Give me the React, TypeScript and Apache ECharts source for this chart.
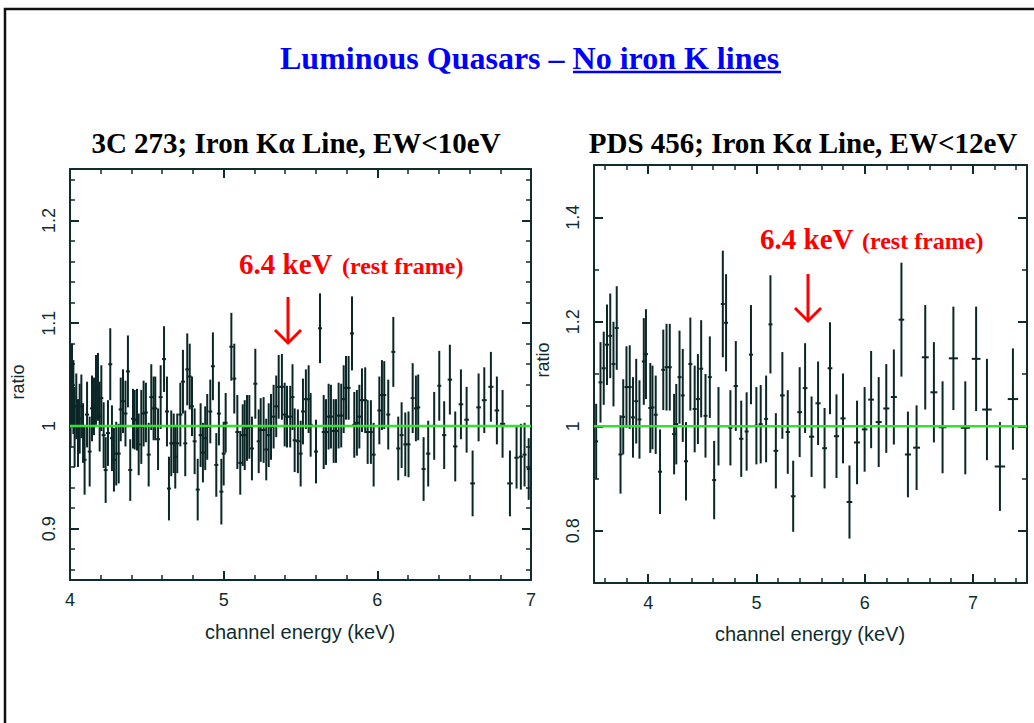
import React, { useEffect, useRef } from "react";
import * as echarts from "echarts";

// ---- data: [channel energy (keV), ratio, error] ----
const spectrum3C273: [number, number, number][] = [
  [4.004, 1.019, 0.040], [4.013, 1.040, 0.040], [4.022, 1.028, 0.036], [4.030, 0.999, 0.039],
  [4.041, 1.019, 0.032], [4.052, 0.993, 0.033], [4.063, 1.007, 0.034], [4.074, 1.019, 0.031],
  [4.085, 0.993, 0.029], [4.095, 0.967, 0.034], [4.111, 1.011, 0.032], [4.128, 0.975, 0.034],
  [4.143, 1.017, 0.032], [4.156, 1.019, 0.028], [4.169, 1.035, 0.034], [4.182, 1.038, 0.033],
  [4.193, 1.009, 0.034], [4.204, 1.027, 0.032], [4.219, 0.991, 0.032], [4.232, 0.957, 0.032],
  [4.247, 0.993, 0.032], [4.262, 1.060, 0.035], [4.273, 0.988, 0.032], [4.286, 0.967, 0.031],
  [4.301, 0.973, 0.031], [4.317, 0.973, 0.029], [4.330, 1.016, 0.031], [4.345, 1.024, 0.031],
  [4.361, 1.012, 0.032], [4.377, 1.053, 0.035], [4.392, 0.957, 0.030], [4.410, 1.007, 0.029],
  [4.421, 1.006, 0.029], [4.436, 1.006, 0.030], [4.447, 0.982, 0.030], [4.464, 0.999, 0.036],
  [4.479, 1.012, 0.032], [4.494, 1.013, 0.029], [4.512, 0.972, 0.031], [4.529, 1.028, 0.032],
  [4.544, 1.017, 0.031], [4.555, 1.017, 0.031], [4.573, 0.987, 0.030], [4.590, 1.028, 0.031],
  [4.612, 1.065, 0.032], [4.631, 1.014, 0.034], [4.644, 0.939, 0.031], [4.659, 0.983, 0.032],
  [4.675, 0.983, 0.029], [4.685, 0.970, 0.031], [4.698, 0.983, 0.029], [4.718, 1.011, 0.031],
  [4.735, 1.043, 0.031], [4.750, 0.983, 0.032], [4.763, 1.055, 0.035], [4.779, 1.048, 0.032],
  [4.794, 1.019, 0.029], [4.811, 0.985, 0.032], [4.831, 0.938, 0.030], [4.850, 0.991, 0.031],
  [4.865, 0.974, 0.029], [4.880, 0.988, 0.031], [4.893, 0.999, 0.032], [4.913, 1.014, 0.031],
  [4.930, 1.058, 0.033], [4.952, 0.962, 0.031], [4.969, 1.012, 0.031], [4.985, 0.936, 0.032],
  [5.000, 0.973, 0.031], [5.013, 1.003, 0.029],
  [5.050, 1.077, 0.033], [5.069, 1.046, 0.034], [5.089, 0.994, 0.036], [5.108, 0.964, 0.031],
  [5.124, 0.991, 0.030], [5.137, 0.991, 0.034], [5.152, 0.998, 0.032], [5.167, 0.999, 0.031],
  [5.184, 0.978, 0.031], [5.206, 1.041, 0.034], [5.228, 0.985, 0.031], [5.241, 0.996, 0.031],
  [5.260, 0.996, 0.032], [5.277, 0.977, 0.030], [5.293, 0.991, 0.031], [5.308, 0.999, 0.032],
  [5.325, 1.009, 0.031], [5.342, 1.019, 0.030], [5.358, 1.038, 0.031], [5.379, 1.038, 0.032],
  [5.397, 1.011, 0.031], [5.412, 1.009, 0.030], [5.433, 1.009, 0.030], [5.448, 1.028, 0.032],
  [5.462, 0.986, 0.031], [5.483, 0.985, 0.031], [5.501, 0.973, 0.032], [5.516, 1.014, 0.032],
  [5.535, 1.026, 0.029], [5.553, 1.026, 0.033], [5.566, 1.001, 0.031], [5.601, 0.975, 0.031],
  [5.627, 1.095, 0.034], [5.651, 0.994, 0.036], [5.666, 0.994, 0.032], [5.683, 1.009, 0.032],
  [5.698, 1.009, 0.031], [5.716, 0.995, 0.031], [5.731, 0.995, 0.031], [5.748, 1.010, 0.032],
  [5.765, 1.010, 0.031], [5.781, 1.026, 0.033], [5.796, 1.037, 0.031], [5.813, 1.037, 0.031],
  [5.835, 1.090, 0.036], [5.850, 1.001, 0.032], [5.867, 1.003, 0.032], [5.883, 1.009, 0.031],
  [5.900, 1.025, 0.031], [5.921, 1.025, 0.032], [5.937, 0.994, 0.031], [5.958, 0.994, 0.031],
  [5.976, 0.972, 0.031],
  [6.013, 1.015, 0.033], [6.030, 1.030, 0.034], [6.045, 1.030, 0.033], [6.071, 1.011, 0.034],
  [6.104, 1.072, 0.034], [6.136, 0.978, 0.031], [6.158, 0.991, 0.032], [6.182, 0.982, 0.031],
  [6.203, 0.982, 0.032], [6.230, 1.027, 0.034], [6.251, 1.017, 0.032], [6.266, 1.018, 0.032],
  [6.301, 0.958, 0.031], [6.331, 0.973, 0.032], [6.370, 1.000, 0.033], [6.403, 1.039, 0.034],
  [6.435, 0.991, 0.033], [6.472, 1.045, 0.034], [6.507, 0.980, 0.034], [6.544, 1.021, 0.034],
  [6.581, 1.006, 0.032], [6.620, 0.944, 0.032], [6.659, 1.018, 0.033], [6.696, 1.025, 0.032],
  [6.739, 1.038, 0.034], [6.778, 1.015, 0.033], [6.815, 1.002, 0.033], [6.863, 0.944, 0.032],
  [6.906, 0.969, 0.030], [6.934, 0.970, 0.032], [6.958, 0.972, 0.031], [6.985, 0.958, 0.030],
];

const spectrumPDS456: [number, number, number][] = [
  [3.52, 0.971, 0.072], [3.56, 1.084, 0.077], [3.59, 1.111, 0.070], [3.62, 1.156, 0.077],
  [3.65, 1.173, 0.081], [3.68, 1.119, 0.081], [3.71, 1.188, 0.080], [3.745, 0.946, 0.075],
  [3.77, 1.018, 0.072], [3.80, 1.075, 0.078], [3.83, 1.075, 0.080], [3.86, 1.017, 0.077],
  [3.89, 1.048, 0.081], [3.92, 1.013, 0.075], [3.96, 1.124, 0.083], [3.98, 1.138, 0.086],
  [4.02, 1.035, 0.086], [4.04, 1.036, 0.080], [4.07, 1.022, 0.075], [4.11, 0.913, 0.081],
  [4.14, 1.108, 0.077], [4.17, 1.113, 0.083], [4.20, 1.113, 0.083], [4.24, 0.985, 0.077],
  [4.26, 1.004, 0.077], [4.29, 1.094, 0.089], [4.32, 1.059, 0.089], [4.35, 0.933, 0.075],
  [4.39, 1.119, 0.089], [4.43, 1.033, 0.083], [4.46, 1.052, 0.086], [4.49, 1.110, 0.093],
  [4.53, 1.020, 0.080], [4.57, 1.094, 0.078], [4.61, 0.897, 0.075], [4.65, 1.000, 0.075],
  [4.69, 1.234, 0.102], [4.72, 1.198, 0.093], [4.76, 0.997, 0.072], [4.81, 1.077, 0.086],
  [4.86, 0.976, 0.073], [4.91, 0.990, 0.075], [4.95, 1.137, 0.095], [5.00, 1.001, 0.074],
  [5.04, 1.004, 0.075], [5.09, 1.014, 0.083], [5.13, 1.195, 0.094], [5.18, 0.953, 0.072],
  [5.24, 1.059, 0.083], [5.29, 0.989, 0.080], [5.34, 0.866, 0.068], [5.40, 1.027, 0.086],
  [5.45, 1.073, 0.086], [5.51, 0.980, 0.077], [5.57, 1.044, 0.080], [5.63, 0.958, 0.077],
  [5.68, 1.111, 0.088], [5.74, 0.981, 0.080], [5.80, 1.015, 0.086], [5.86, 0.855, 0.070],
  [5.93, 0.969, 0.080], [6.00, 0.994, 0.081], [6.06, 1.051, 0.093], [6.13, 1.008, 0.086],
  [6.20, 1.034, 0.085], [6.27, 1.056, 0.091], [6.34, 1.204, 0.109], [6.40, 0.946, 0.082],
  [6.48, 0.959, 0.081], [6.56, 1.132, 0.100], [6.64, 1.065, 0.096], [6.72, 0.998, 0.088],
  [6.82, 1.130, 0.099], [6.93, 0.997, 0.089], [7.03, 1.129, 0.100], [7.13, 1.032, 0.097],
  [7.25, 0.923, 0.085], [7.37, 1.052, 0.097],
];

// ---- axes ----
const leftXRange = [4, 7];
const leftYRange = [0.85, 1.25];
const rightXRange = [3.5, 7.5];
const rightYRange = [0.7, 1.5];
const leftXLabels = [4, 5, 6, 7];
const leftYLabels = [0.9, 1, 1.1, 1.2];
const rightXLabels = [4, 5, 6, 7];
const rightYLabels = [0.8, 1, 1.2, 1.4];
const modelRatio = 1;

const FRAME = "#0f2d2d";
const BAR = "#0b2626";
const GREEN = "#33e033";
const RED = "#ff0000";
const BLUE = "#0000ff";
const SANS = "'Liberation Sans', Arial, sans-serif";
const SERIF = "'Liberation Serif', 'Times New Roman', serif";

function steps(a: number, b: number, s: number): number[] {
  const out: number[] = [];
  for (let v = a; v <= b + 1e-9; v += s) out.push(Math.round(v * 1000) / 1000);
  return out;
}

function makeAxes(
  dim: "x" | "y",
  gridIndex: number,
  range: number[],
  labels: number[],
  major: number[],
  minor: number[]
) {
  const pos = dim === "x" ? ["bottom", "top"] : ["left", "right"];
  const common = {
    type: "value",
    gridIndex,
    min: range[0],
    max: range[1],
    splitLine: { show: false },
    axisPointer: { show: false },
  };
  const lineOn = { show: true, onZero: false, lineStyle: { color: FRAME, width: 2 } };
  const majorTick = {
    show: true,
    inside: true,
    length: 9,
    customValues: major,
    lineStyle: { color: FRAME, width: 2 },
  };
  const minorTick = {
    show: true,
    inside: true,
    length: 5,
    customValues: minor,
    lineStyle: { color: FRAME, width: 1.5 },
  };
  return [
    {
      ...common,
      position: pos[0],
      axisLine: lineOn,
      axisTick: majorTick,
      axisLabel: {
        show: true,
        customValues: labels,
        formatter: (v: number) => String(Math.round(v * 100) / 100),
        color: FRAME,
        fontFamily: SANS,
        fontSize: 18,
        margin: dim === "x" ? 11 : 12,
        rotate: dim === "y" ? 90 : 0,
      },
    },
    { ...common, position: pos[0], axisLine: { show: false }, axisTick: minorTick, axisLabel: { show: false } },
    { ...common, position: pos[1], axisLine: lineOn, axisTick: majorTick, axisLabel: { show: false } },
    { ...common, position: pos[1], axisLine: { show: false }, axisTick: minorTick, axisLabel: { show: false } },
  ];
}

function errorBars(data: [number, number, number][], axisIndex: number, name: string) {
  return {
    type: "custom",
    name,
    xAxisIndex: axisIndex,
    yAxisIndex: axisIndex,
    clip: true,
    z: 2,
    data: data.map((d) => [d[0], d[1], d[2]]),
    renderItem: (params: any, api: any) => {
      const i = params.dataIndex;
      const x = api.value(0);
      const y = api.value(1);
      const e = api.value(2);
      const prev = i > 0 ? x - data[i - 1][0] : data[i + 1][0] - x;
      const next = i < data.length - 1 ? data[i + 1][0] - x : x - data[i - 1][0];
      const spacingPx = Math.abs(api.size([(prev + next) / 2, 0])[0]);
      const hw = Math.max(2, 0.4 * spacingPx);
      const c = api.coord([x, y]);
      const t = api.coord([x, y + e]);
      const b = api.coord([x, y - e]);
      return {
        type: "group",
        children: [
          { type: "line", shape: { x1: c[0], y1: t[1], x2: c[0], y2: b[1] }, style: { stroke: BAR, lineWidth: 2 } },
          { type: "line", shape: { x1: c[0] - hw, y1: c[1], x2: c[0] + hw, y2: c[1] }, style: { stroke: BAR, lineWidth: 2 } },
        ],
      };
    },
  };
}

function modelLine(range: number[], axisIndex: number) {
  return {
    type: "line",
    name: "model",
    xAxisIndex: axisIndex,
    yAxisIndex: axisIndex,
    data: [
      [range[0], modelRatio],
      [range[1], modelRatio],
    ],
    symbol: "none",
    z: 5,
    lineStyle: { color: GREEN, width: 2.5 },
  };
}

function arrow(x: number, y1: number, y2: number) {
  return [
    { type: "line", shape: { x1: x, y1, x2: x, y2 }, style: { stroke: RED, lineWidth: 3 } },
    {
      type: "polyline",
      shape: { points: [[x - 13, y2 - 13], [x, y2], [x + 13, y2 - 13]] },
      style: { stroke: RED, lineWidth: 3, fill: "none" },
    },
  ];
}

export default function App() {
  const ref = useRef<HTMLDivElement>(null);

  useEffect(() => {
    if (!ref.current) return;
    const chart = echarts.init(ref.current, undefined, { renderer: "svg" });

    const leftX = makeAxes("x", 0, leftXRange, leftXLabels, [5, 6], steps(4.2, 6.8, 0.2));
    const rightX = makeAxes("x", 1, rightXRange, rightXLabels, rightXLabels, steps(3.6, 7.4, 0.2));
    const leftY = makeAxes("y", 0, leftYRange, leftYLabels, leftYLabels, steps(0.86, 1.24, 0.02));
    const rightY = makeAxes("y", 1, rightYRange, rightYLabels, rightYLabels, steps(0.8, 1.4, 0.1));

    const option: any = {
      animation: false,
      backgroundColor: "#ffffff",
      grid: [
        { left: 70, top: 169, width: 461, height: 411 },
        { left: 594, top: 165, width: 433, height: 418 },
      ],
      xAxis: [...leftX, ...rightX],
      yAxis: [...leftY, ...rightY],
      series: [
        errorBars(spectrum3C273, 0, "3C 273"),
        modelLine(leftXRange, 0),
        errorBars(spectrumPDS456, 4, "PDS 456"),
        modelLine(rightXRange, 4),
      ],
      graphic: [
        {
          type: "rect",
          shape: { x: 5, y: 9, width: 1100, height: 800 },
          style: { fill: "none", stroke: "#111111", lineWidth: 2.5 },
          silent: true,
        },
        {
          type: "text",
          x: 280,
          y: 58,
          style: {
            text: "Luminous Quasars – No iron K lines",
            font: `bold 32px ${SERIF}`,
            fill: BLUE,
            verticalAlign: "middle",
          },
        },
        { type: "line", shape: { x1: 573, y1: 72, x2: 781, y2: 72 }, style: { stroke: BLUE, lineWidth: 2.5 } },
        {
          type: "text",
          x: 296,
          y: 143,
          style: {
            text: "3C 273; Iron Kα Line, EW<10eV",
            font: `bold 29px ${SERIF}`,
            fill: "#000000",
            align: "center",
            verticalAlign: "middle",
          },
        },
        {
          type: "text",
          x: 803,
          y: 143,
          style: {
            text: "PDS 456; Iron Kα Line, EW<12eV",
            font: `bold 29px ${SERIF}`,
            fill: "#000000",
            align: "center",
            verticalAlign: "middle",
          },
        },
        { type: "text", x: 239, y: 264, style: { text: "6.4 keV", font: `bold 29px ${SERIF}`, fill: RED, verticalAlign: "middle" } },
        { type: "text", x: 342, y: 266, style: { text: "(rest frame)", font: `bold 24px ${SERIF}`, fill: RED, verticalAlign: "middle" } },
        { type: "text", x: 760, y: 239, style: { text: "6.4 keV", font: `bold 29px ${SERIF}`, fill: RED, verticalAlign: "middle" } },
        { type: "text", x: 862, y: 241, style: { text: "(rest frame)", font: `bold 24px ${SERIF}`, fill: RED, verticalAlign: "middle" } },
        ...arrow(288, 297, 343),
        ...arrow(808, 274, 321),
        {
          type: "text",
          x: 18,
          y: 382,
          rotation: Math.PI / 2,
          style: { text: "ratio", font: `18px ${SANS}`, fill: FRAME, align: "center", verticalAlign: "middle" },
        },
        {
          type: "text",
          x: 543,
          y: 360,
          rotation: Math.PI / 2,
          style: { text: "ratio", font: `18px ${SANS}`, fill: FRAME, align: "center", verticalAlign: "middle" },
        },
        {
          type: "text",
          x: 300,
          y: 632,
          style: { text: "channel energy (keV)", font: `20px ${SANS}`, fill: FRAME, align: "center", verticalAlign: "middle" },
        },
        {
          type: "text",
          x: 810,
          y: 634,
          style: { text: "channel energy (keV)", font: `20px ${SANS}`, fill: FRAME, align: "center", verticalAlign: "middle" },
        },
      ],
    };

    chart.setOption(option);
    return () => chart.dispose();
  }, []);

  return (
    <div
      ref={ref}
      style={{ position: "fixed", left: 0, top: 0, width: 1034, height: 723, background: "#ffffff" }}
    />
  );
}
